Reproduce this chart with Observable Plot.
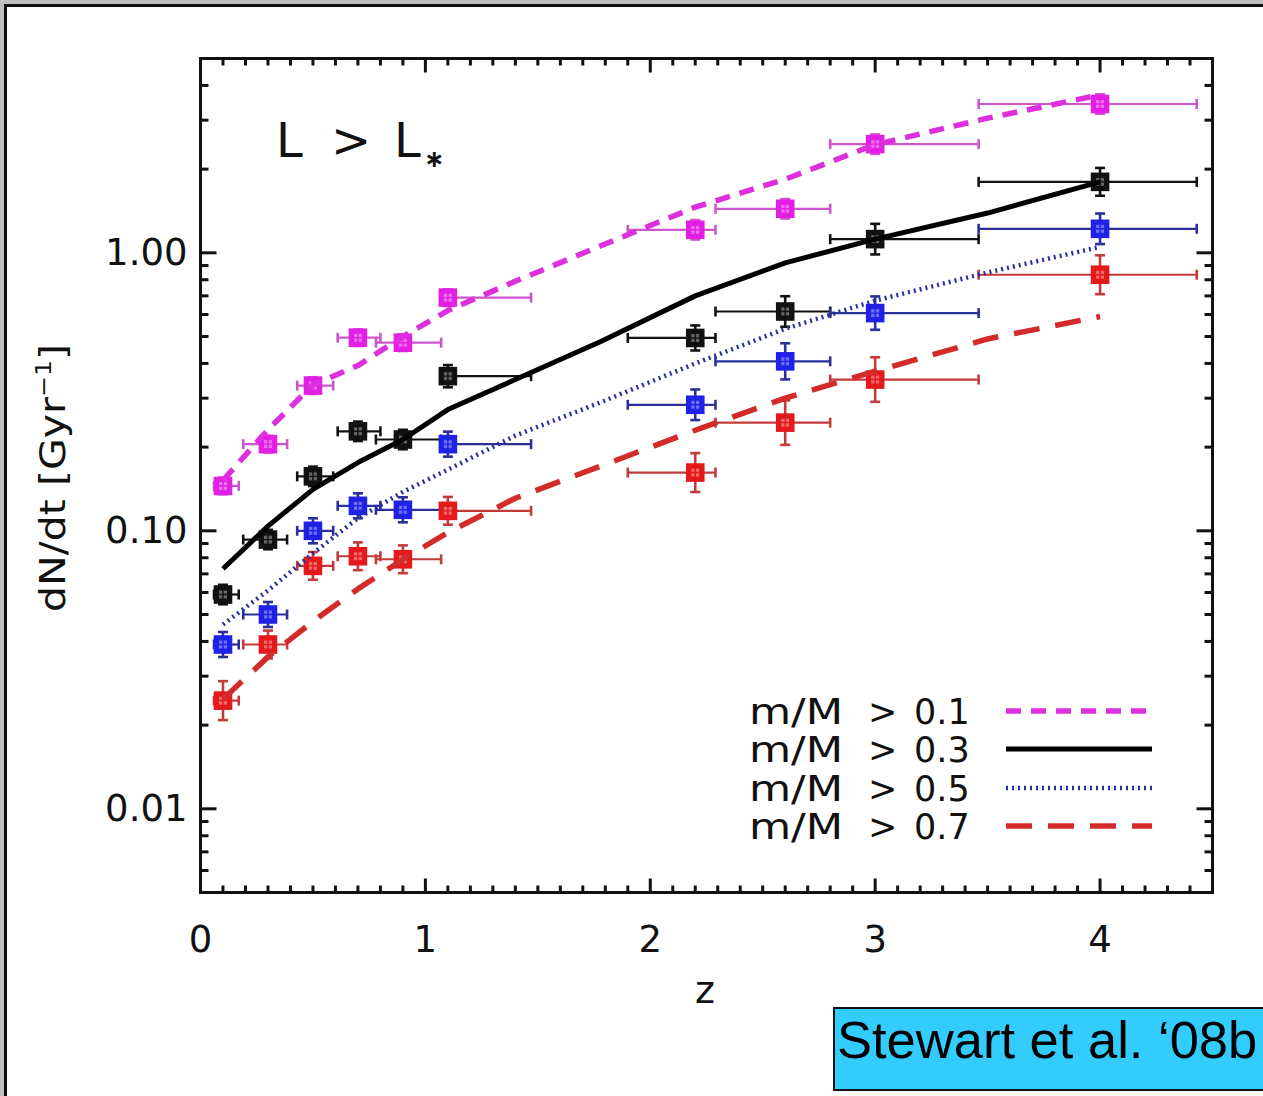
<!DOCTYPE html>
<html>
<head>
<meta charset="utf-8">
<script src="https://cdn.jsdelivr.net/npm/d3@7"></script>
<script src="https://cdn.jsdelivr.net/npm/@observablehq/plot@0.6"></script>
<style>
  html, body { margin: 0; padding: 0; background: #c0c0c0; }
  body { width: 1263px; height: 1096px; position: relative; overflow: hidden; }
  #panel { position: absolute; left: 4px; top: 4px; width: 1300px; height: 1200px;
           background: #fff; border-left: 3px solid #111; border-top: 3px solid #111; }
  #chart { position: absolute; left: 0; top: 0; }
  #cite { position: absolute; left: 833px; top: 1007px; width: 432px; height: 84px;
          box-sizing: border-box; background: #33ccff; border: 2px solid #111;
          font-family: "Liberation Sans", Arial, sans-serif; font-size: 52.5px; line-height: 1;
          color: #000; padding: 5px 0 0 2px; white-space: nowrap; }
</style>
</head>
<body>
<div id="panel"></div>
<div id="chart"></div>
<div id="cite">Stewart et al. ‘08b</div>
<script>
// Redshift bins: point positions and bin edges
const zPts = [0.1, 0.3, 0.5, 0.7, 0.9, 1.1, 2.2, 2.6, 3.0, 4.0];
const zLo  = [0.06, 0.19, 0.43, 0.61, 0.78, 1.07, 1.90, 2.29, 2.80, 3.46];
const zHi  = [0.17, 0.385, 0.59, 0.80, 1.07, 1.47, 2.29, 2.80, 3.46, 4.43];

// Merger rates dN/dt [Gyr^-1] for each mass-ratio threshold
const rate01 = [0.145, 0.205, 0.333, 0.495, 0.475, 0.69, 1.21, 1.44, 2.46, 3.43];
const rate03 = [0.059, 0.093, 0.157, 0.228, 0.213, 0.36, 0.494, 0.615, 1.12, 1.80];
const rate05 = [0.039, 0.050, 0.100, 0.123, 0.119, 0.205, 0.284, 0.407, 0.607, 1.22];
const rate07 = [0.0245, 0.039, 0.0748, 0.081, 0.079, 0.118, 0.162, 0.245, 0.350, 0.834];

// Vertical error half-widths, in dex
const err01 = [0.03, 0.03, 0.03, 0.03, 0.03, 0.03, 0.035, 0.035, 0.035, 0.035];
const err03 = [0.035, 0.035, 0.035, 0.035, 0.035, 0.04, 0.045, 0.055, 0.055, 0.05];
const err05 = [0.045, 0.045, 0.045, 0.045, 0.045, 0.045, 0.055, 0.065, 0.06, 0.055];
const err07 = [0.07, 0.05, 0.05, 0.05, 0.05, 0.05, 0.07, 0.08, 0.08, 0.07];

// Model curves
const zModel   = [0.1, 0.3, 0.5, 0.7, 0.9, 1.1, 1.4, 1.78, 2.2, 2.6, 3.0, 3.5, 4.0];
const model01  = [0.152, 0.231, 0.335, 0.393, 0.50, 0.62, 0.79, 1.06, 1.46, 1.84, 2.45, 3.05, 3.70];
const model03  = [0.073, 0.104, 0.141, 0.176, 0.213, 0.273, 0.35, 0.48, 0.70, 0.92, 1.12, 1.39, 1.80];
const model05  = [0.046, 0.061, 0.083, 0.111, 0.138, 0.166, 0.22, 0.29, 0.40, 0.533, 0.673, 0.85, 1.05];
const model07  = [0.0248, 0.0352, 0.0472, 0.0618, 0.0789, 0.0986, 0.131, 0.171, 0.23, 0.30, 0.375, 0.49, 0.59];

const labels = ["m/M > 0.1", "m/M > 0.3", "m/M > 0.5", "m/M > 0.7"];
const xTickLabels = [0, 1, 2, 3, 4];
const yTickLabels = [0.01, 0.1, 1];

const series = [
  {label: labels[0], rate: rate01, err: err01, model: model01,
   fill: "#e31fe3", bar: "#cc55cc", stroke: "#dd2fdd", width: 5.5, dash: "15,10"},
  {label: labels[1], rate: rate03, err: err03, model: model03,
   fill: "#111111", bar: "#111111", stroke: "#000000", width: 5, dash: null},
  {label: labels[2], rate: rate05, err: err05, model: model05,
   fill: "#1f22e6", bar: "#2a2f9a", stroke: "#26309e", width: 4.5, dash: "2,4"},
  {label: labels[3], rate: rate07, err: err07, model: model07,
   fill: "#e3191b", bar: "#c43a3a", stroke: "#d32a2a", width: 5.5, dash: "26,16"}
];

// Line-segment symbols for error caps and inward axis ticks
const seg = (x0, y0, x1, y1) => ({draw(ctx) { ctx.moveTo(x0, y0); ctx.lineTo(x1, y1); }});
const capV = seg(0, -5, 0, 5);
const capH = seg(-5, 0, 5, 0);

// Minor/major tick positions
const xMajor = d3.range(0, 5);
const xMinor = d3.range(0, 46).map(i => i / 10).filter(v => Math.abs(v - Math.round(v)) > 1e-9);
const yMajor = [0.01, 0.1, 1];
const yMinor = [];
for (const dec of [0.001, 0.01, 0.1, 1]) for (let k = 2; k <= 9; k++) {
  const v = k * dec;
  if (v >= 0.005 && v <= 5) yMinor.push(v);
}

const tickStyle = {fill: "none", stroke: "#111", strokeWidth: 3};
const tickMarks = [
  Plot.dot(xMajor, {x: d => d, frameAnchor: "bottom", symbol: seg(0, 0, 0, -14), ...tickStyle}),
  Plot.dot(xMinor, {x: d => d, frameAnchor: "bottom", symbol: seg(0, 0, 0, -7), ...tickStyle}),
  Plot.dot(xMajor, {x: d => d, frameAnchor: "top", symbol: seg(0, 0, 0, 14), ...tickStyle}),
  Plot.dot(xMinor, {x: d => d, frameAnchor: "top", symbol: seg(0, 0, 0, 7), ...tickStyle}),
  Plot.dot(yMajor, {y: d => d, frameAnchor: "left", symbol: seg(0, 0, 16, 0), ...tickStyle}),
  Plot.dot(yMinor, {y: d => d, frameAnchor: "left", symbol: seg(0, 0, 8, 0), ...tickStyle}),
  Plot.dot(yMajor, {y: d => d, frameAnchor: "right", symbol: seg(0, 0, -16, 0), ...tickStyle}),
  Plot.dot(yMinor, {y: d => d, frameAnchor: "right", symbol: seg(0, 0, -8, 0), ...tickStyle})
];

const pointMarks = series.flatMap(s => {
  const rows = zPts.map((z, i) => ({
    z, lo: zLo[i], hi: zHi[i], v: s.rate[i],
    ylo: s.rate[i] / Math.pow(10, s.err[i]), yhi: s.rate[i] * Math.pow(10, s.err[i])
  }));
  const barStyle = {stroke: s.bar, strokeWidth: 2.2};
  return [
    Plot.ruleY(rows, {y: "v", x1: "lo", x2: "hi", ...barStyle}),
    Plot.ruleX(rows, {x: "z", y1: "ylo", y2: "yhi", ...barStyle, strokeWidth: 2.6}),
    Plot.dot(rows, {x: "lo", y: "v", symbol: capV, fill: "none", ...barStyle, strokeWidth: 2.6}),
    Plot.dot(rows, {x: "hi", y: "v", symbol: capV, fill: "none", ...barStyle, strokeWidth: 2.6}),
    Plot.dot(rows, {x: "z", y: "ylo", symbol: capH, fill: "none", ...barStyle, strokeWidth: 2.6}),
    Plot.dot(rows, {x: "z", y: "yhi", symbol: capH, fill: "none", ...barStyle, strokeWidth: 2.6}),
    Plot.dot(rows, {x: "z", y: "v", symbol: "square", r: 10.5, fill: s.fill}),
    Plot.dot(rows, {x: "z", y: "v", symbol: "square", r: 4.5, fill: "white", fillOpacity: 0.35}),
    Plot.dot(rows, {x: "z", y: "v", symbol: "plus", r: 4.5, stroke: s.fill, strokeWidth: 1.4})
  ];
});

const lineMarks = series.map(s =>
  Plot.line(zModel.map((z, i) => ({z, v: s.model[i]})), {
    x: "z", y: "v", stroke: s.stroke, strokeWidth: s.width,
    strokeDasharray: s.dash ?? undefined, strokeLinecap: "butt", strokeLinejoin: "round"
  })
);

const chart = Plot.plot({
  width: 1263,
  height: 1096,
  marginLeft: 200,
  marginRight: 51,
  marginTop: 58,
  marginBottom: 204,
  style: {background: "transparent", fontFamily: "'DejaVu Sans', sans-serif", fontSize: "37px", color: "#111"},
  x: {domain: [0, 4.5], ticks: xTickLabels, tickSize: 0, tickPadding: 33, tickFormat: d => String(d), label: null},
  y: {type: "log", domain: [0.005, 5], ticks: yTickLabels, tickSize: 0, tickPadding: 13,
      tickFormat: d3.format(".2f"), label: null},
  marks: [
    ...pointMarks,
    ...lineMarks,
    ...tickMarks,
    Plot.frame({stroke: "#111", strokeWidth: 3})
  ]
});
document.getElementById("chart").appendChild(chart);

// Annotations: axis titles, panel label and legend
const svg = d3.select(chart);
const font = "'DejaVu Sans', sans-serif";

svg.append("text")
  .attr("x", 705).attr("y", 1003)
  .attr("text-anchor", "middle").attr("font-family", font).attr("font-size", 38).attr("fill", "#111")
  .text("z");

const ylab = svg.append("text")
  .attr("transform", "translate(65,478) rotate(-90)")
  .attr("text-anchor", "middle").attr("font-family", font).attr("font-size", 36).attr("fill", "#111")
  .attr("textLength", 268).attr("lengthAdjust", "spacingAndGlyphs");
ylab.append("tspan").text("dN/dt [Gyr");
ylab.append("tspan").attr("font-size", 22).attr("dy", -14).text("−1");
ylab.append("tspan").attr("dy", 14).text("]");

const title = svg.append("g").attr("font-family", font).attr("fill", "#111").attr("text-anchor", "start");
title.append("text").attr("x", 276).attr("y", 157).attr("font-size", 48).text("L");
title.append("text").attr("x", 331).attr("y", 157).attr("font-size", 48).text(">");
title.append("text").attr("x", 394).attr("y", 157).attr("font-size", 48).text("L");
title.append("text").attr("x", 424).attr("y", 167).attr("font-size", 24).attr("font-weight", "bold").text("∗");

const legend = svg.append("g").attr("font-family", font).attr("font-size", 35)
  .attr("fill", "#111").attr("text-anchor", "start");
const rowY = [711, 749, 788, 826];
series.forEach((s, i) => {
  const [lhs, op, rhs] = s.label.split(" ");
  const y = rowY[i];
  legend.append("text").attr("x", 749).attr("y", y + 13)
    .attr("textLength", 94).attr("lengthAdjust", "spacingAndGlyphs").text(lhs);
  legend.append("text").attr("x", 868).attr("y", y + 13).text(op);
  legend.append("text").attr("x", 914).attr("y", y + 13).text(rhs);
  legend.append("line")
    .attr("x1", 1006).attr("x2", 1152).attr("y1", y).attr("y2", y)
    .attr("stroke", s.stroke).attr("stroke-width", s.width)
    .attr("stroke-dasharray", s.dash);
});
</script>
</body>
</html>
